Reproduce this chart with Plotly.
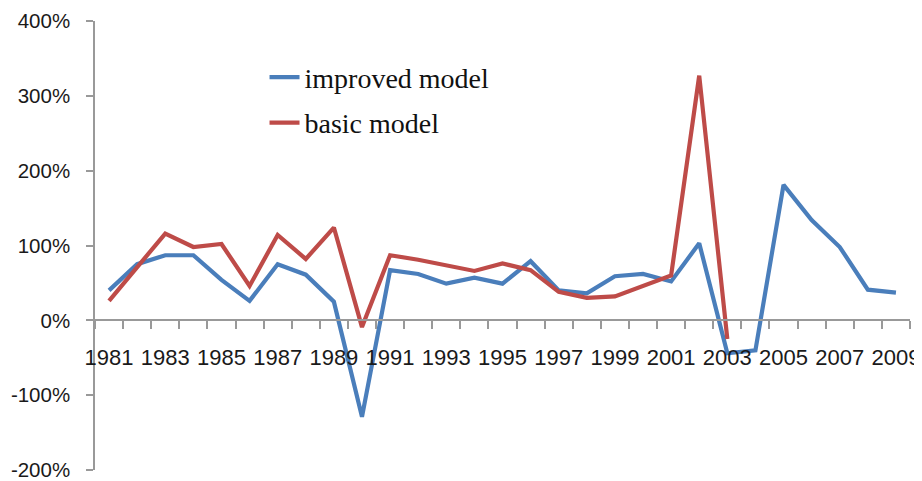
import plotly.graph_objects as go

years = list(range(1981, 2010))
improved = [40, 75, 87, 87, 54, 26, 75, 61, 25, -129, 67, 62, 49, 57, 49,
            79, 40, 36, 59, 62, 52, 103, -44, -40, 181, 134, 98, 41, 37]
basic_years = list(range(1981, 2004))
basic = [26, 72, 116, 98, 102, 46, 114, 82, 124, -9, 87, 81, 74, 66, 76,
         67, 38, 30, 32, 46, 60, 327, -25]

y_tickvals = [-200, -100, 0, 100, 200, 300, 400]
y_ticktext = ["-200%", "-100%", "0%", "100%", "200%", "300%", "400%"]
x_label_years = list(range(1981, 2010, 2))
x_label_text = [str(y) for y in x_label_years]

fig = go.Figure()
fig.add_trace(go.Scatter(x=years, y=improved, mode="lines", name="improved model",
                         legendgroup="a",
                         line=dict(color="#4A7EBB", width=4.2)))
fig.add_trace(go.Scatter(x=basic_years, y=basic, mode="lines", name="basic model",
                         legendgroup="b",
                         line=dict(color="#BE4B48", width=4.2)))

# the page body adds an 8px offset, so the figure is sized and margined to compensate
fig.update_layout(
    width=914, height=473,
    margin=dict(l=87, r=12, t=13, b=11, autoexpand=False),
    paper_bgcolor="white", plot_bgcolor="white",
    font=dict(family="Liberation Sans, Arial, sans-serif", size=21, color="#1a1a1a"),
    showlegend=True,
    legend=dict(x=0.208, y=0.93, xanchor="left", yanchor="top",
                font=dict(family="Liberation Serif, Times New Roman, serif", size=28, color="#111"),
                bgcolor="rgba(0,0,0,0)", tracegroupgap=6),
    hovermode=False,
)
fig.update_xaxes(
    range=[1980.5, 2009.5], showgrid=False, zeroline=False, automargin=False,
    showline=True, linecolor="#999999", linewidth=1.5,
    anchor="free", position=1/3,
    tickmode="array", tickvals=x_label_years, ticktext=x_label_text,
    ticks="", ticklabelstandoff=18, tickfont=dict(size=22),
    ticklabeloverflow="allow",
    minor=dict(ticks="outside", tick0=1980.5, dtick=1, ticklen=8,
               tickcolor="#999999", tickwidth=1.5, showgrid=False),
)
fig.update_yaxes(
    range=[-200, 400], showgrid=False, zeroline=False, automargin=False,
    showline=True, linecolor="#999999", linewidth=1.5,
    tickmode="array", tickvals=y_tickvals, ticktext=y_ticktext,
    ticks="outside", ticklen=7, tickcolor="#999999", tickwidth=1.5,
    ticklabelstandoff=12, ticklabeloverflow="allow", tickfont=dict(size=20.5),
)

fig.write_html("out.html")
